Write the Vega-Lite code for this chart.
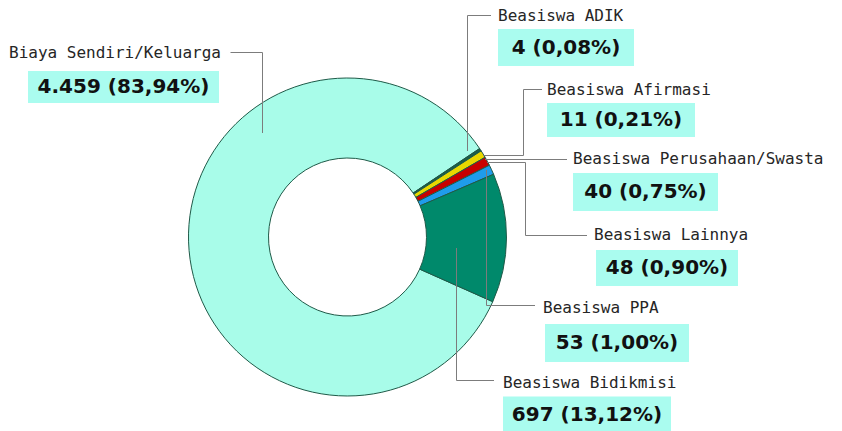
{
  "$schema": "https://vega.github.io/schema/vega-lite/v6.json",
  "autosize": "none",
  "width": 695,
  "height": 388,
  "padding": {"left": 0, "top": 43, "right": 147, "bottom": 0},
  "background": "white",
  "config": {"view": {"stroke": null}},
  "datasets": {
    "potong": [
      {"kategori": "Biaya Sendiri/Keluarga", "jumlah": 4459, "persen": 83.94, "label": "4.459 (83,94%)", "urut": 1},
      {"kategori": "Beasiswa ADIK", "jumlah": 4, "persen": 0.08, "label": "4 (0,08%)", "urut": 2},
      {"kategori": "Beasiswa Afirmasi", "jumlah": 11, "persen": 0.21, "label": "11 (0,21%)", "urut": 3},
      {"kategori": "Beasiswa Perusahaan/Swasta", "jumlah": 40, "persen": 0.75, "label": "40 (0,75%)", "urut": 4},
      {"kategori": "Beasiswa Lainnya", "jumlah": 48, "persen": 0.90, "label": "48 (0,90%)", "urut": 5},
      {"kategori": "Beasiswa PPA", "jumlah": 53, "persen": 1.00, "label": "53 (1,00%)", "urut": 6},
      {"kategori": "Beasiswa Bidikmisi", "jumlah": 697, "persen": 13.12, "label": "697 (13,12%)", "urut": 7}
    ],
    "garis": [
      {"kategori": "Biaya Sendiri/Keluarga", "titik": 1},
      {"kategori": "Biaya Sendiri/Keluarga", "titik": 2},
      {"kategori": "Biaya Sendiri/Keluarga", "titik": 3},
      {"kategori": "Beasiswa ADIK", "titik": 4},
      {"kategori": "Beasiswa ADIK", "titik": 5},
      {"kategori": "Beasiswa ADIK", "titik": 6},
      {"kategori": "Beasiswa Afirmasi", "titik": 7},
      {"kategori": "Beasiswa Afirmasi", "titik": 8},
      {"kategori": "Beasiswa Afirmasi", "titik": 9},
      {"kategori": "Beasiswa Afirmasi", "titik": 10},
      {"kategori": "Beasiswa Perusahaan/Swasta", "titik": 11},
      {"kategori": "Beasiswa Perusahaan/Swasta", "titik": 12},
      {"kategori": "Beasiswa Lainnya", "titik": 13},
      {"kategori": "Beasiswa Lainnya", "titik": 14},
      {"kategori": "Beasiswa Lainnya", "titik": 15},
      {"kategori": "Beasiswa Lainnya", "titik": 16},
      {"kategori": "Beasiswa PPA", "titik": 17},
      {"kategori": "Beasiswa PPA", "titik": 18},
      {"kategori": "Beasiswa PPA", "titik": 19},
      {"kategori": "Beasiswa Bidikmisi", "titik": 20},
      {"kategori": "Beasiswa Bidikmisi", "titik": 21},
      {"kategori": "Beasiswa Bidikmisi", "titik": 22}
    ]
  },
  "resolve": {"scale": {"x": "independent", "y": "independent", "color": "independent", "shape": "independent"}},
  "layer": [
    {
      "data": {"name": "potong"},
      "mark": {"type": "arc", "outerRadius": 159, "innerRadius": 79, "stroke": "#1f5a48", "strokeWidth": 1},
      "encoding": {
        "theta": {"field": "jumlah", "type": "quantitative", "stack": true, "scale": {"range": [1.98968, 8.27287]}},
        "order": {"field": "urut", "type": "quantitative"},
        "color": {
          "field": "kategori", "type": "nominal", "legend": null,
          "scale": {
            "domain": ["Biaya Sendiri/Keluarga", "Beasiswa ADIK", "Beasiswa Afirmasi", "Beasiswa Perusahaan/Swasta", "Beasiswa Lainnya", "Beasiswa PPA", "Beasiswa Bidikmisi"],
            "range": ["#a8fce9", "#1d4f3e", "#146049", "#e8d800", "#c80000", "#1f9cec", "#00896b"]
          }
        }
      }
    },
    {
      "data": {"name": "garis"},
      "mark": {"type": "line", "stroke": "#7c7c7c", "strokeWidth": 1, "interpolate": "linear"},
      "encoding": {
        "x": {"field": "titik", "type": "quantitative", "axis": null,
          "scale": {"nice": false, "zero": false,
            "domain": [1,2,3,4,5,6,7,8,9,10,11,12,13,14,15,16,17,18,19,20,21,22],
            "range": [230.5,262.5,262.5,491,467.5,467.5,542,523.5,523.5,483,567,485,587,525.5,525.5,487,486.5,486.5,535,456.5,456.5,494]}},
        "y": {"field": "titik", "type": "quantitative", "axis": null,
          "scale": {"nice": false, "zero": false,
            "domain": [1,2,3,4,5,6,7,8,9,10,11,12,13,14,15,16,17,18,19,20,21,22],
            "range": [9.5,9.5,90,-27.5,-27.5,108,46.5,46.5,112.5,112.5,116.5,116.5,192.5,192.5,119.5,119.5,127,262.5,262.5,205,337.5,337.5]}},
        "detail": {"field": "kategori", "type": "nominal"},
        "order": {"field": "titik", "type": "quantitative"}
      }
    },
    {
      "data": {"name": "potong"},
      "mark": {"type": "text", "align": "left", "baseline": "middle", "font": "DejaVu Sans Mono", "fontSize": 16, "color": "#262626"},
      "encoding": {
        "text": {"field": "kategori", "type": "nominal"},
        "x": {"field": "urut", "type": "quantitative", "axis": null,
          "scale": {"nice": false, "zero": false, "domain": [1,2,3,4,5,6,7], "range": [9, 498, 547, 573, 594, 543, 503]}},
        "y": {"field": "urut", "type": "quantitative", "axis": null,
          "scale": {"nice": false, "zero": false, "domain": [1,2,3,4,5,6,7], "range": [9.5, -27.5, 47, 116, 192, 265, 339.5]}}
      }
    },
    {
      "data": {"name": "potong"},
      "encoding": {
        "x": {"field": "urut", "type": "quantitative", "axis": null,
          "scale": {"nice": false, "zero": false, "domain": [1,2,3,4,5,6,7], "range": [123.5, 566, 621, 645.5, 667, 617, 587]}},
        "y": {"field": "urut", "type": "quantitative", "axis": null,
          "scale": {"nice": false, "zero": false, "domain": [1,2,3,4,5,6,7], "range": [44, 4.5, 77, 149, 225, 300, 372]}}
      },
      "layer": [
        {
          "mark": {"type": "point", "filled": true, "opacity": 1, "strokeWidth": 0, "color": "#aafcef"},
          "encoding": {
            "size": {"value": 40000},
            "shape": {
              "field": "kategori", "type": "nominal", "legend": null,
              "scale": {
                "domain": ["Biaya Sendiri/Keluarga", "Beasiswa ADIK", "Beasiswa Afirmasi", "Beasiswa Perusahaan/Swasta", "Beasiswa Lainnya", "Beasiswa PPA", "Beasiswa Bidikmisi"],
                "range": [
                  "M-0.955,-0.16H0.955V0.16H-0.955Z",
                  "M-0.68,-0.185H0.68V0.185H-0.68Z",
                  "M-0.74,-0.17H0.74V0.17H-0.74Z",
                  "M-0.725,-0.19H0.725V0.19H-0.725Z",
                  "M-0.71,-0.18H0.71V0.18H-0.71Z",
                  "M-0.72,-0.19H0.72V0.19H-0.72Z",
                  "M-0.84,-0.185H0.84V0.185H-0.84Z"
                ]
              }
            }
          }
        },
        {
          "mark": {"type": "text", "align": "center", "baseline": "middle", "font": "DejaVu Sans", "fontWeight": "bold", "fontSize": 20, "color": "#111111"},
          "encoding": {"text": {"field": "label", "type": "nominal"}}
        }
      ]
    }
  ]
}
